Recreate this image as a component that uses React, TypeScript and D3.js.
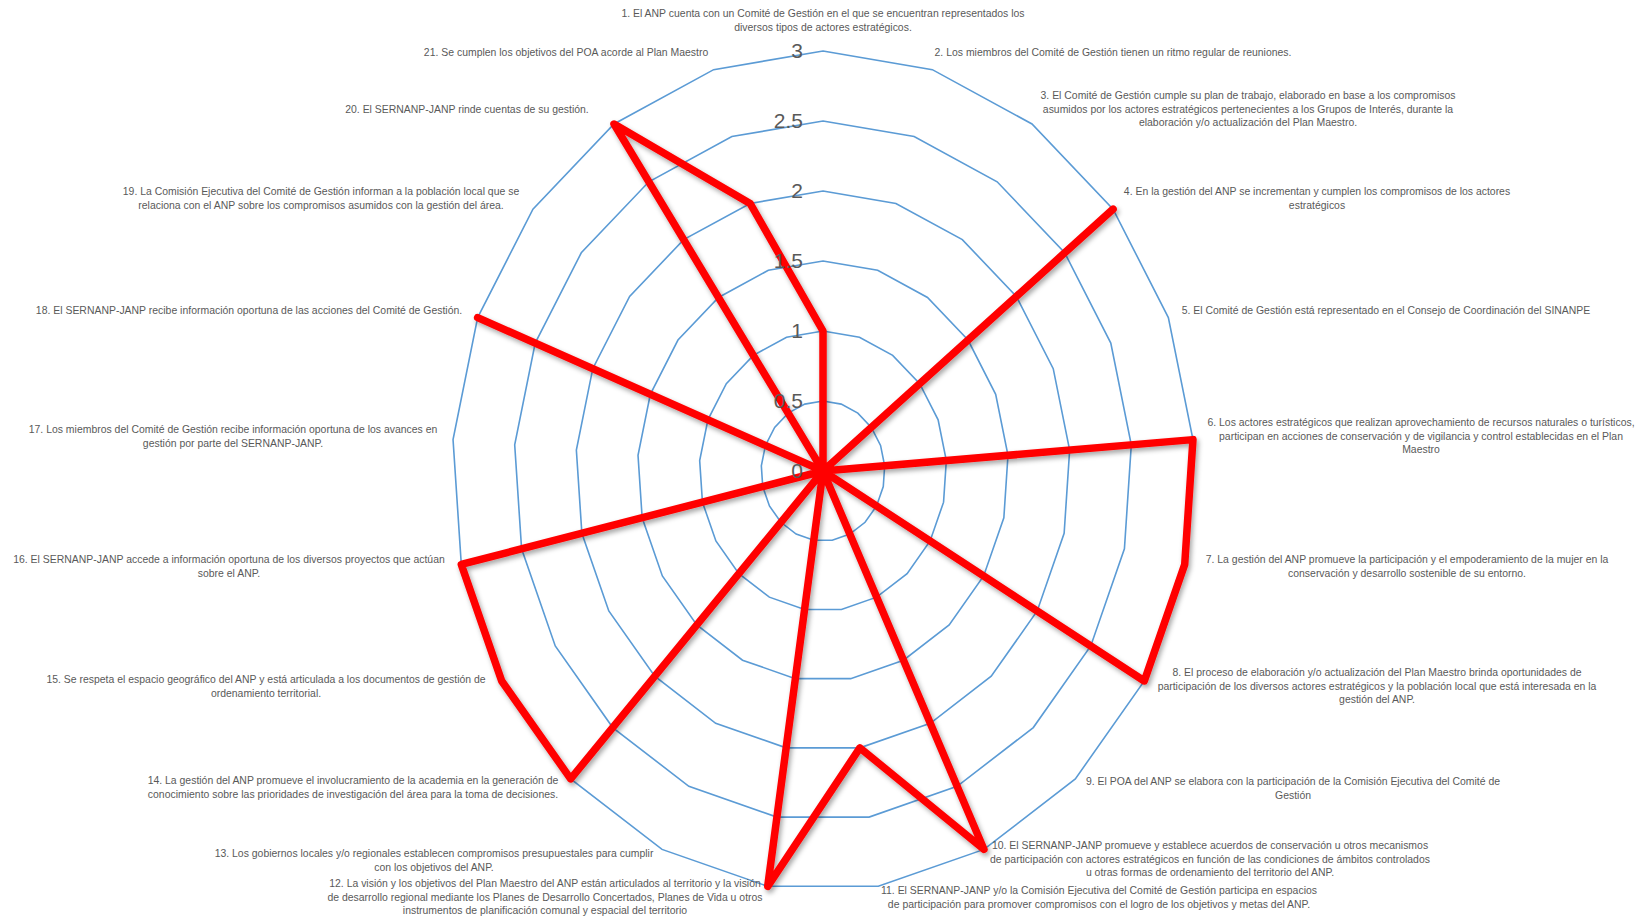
import { useEffect, useRef } from 'react';
import * as d3 from 'd3';

const categories: string[][] = [
  ['1. El ANP cuenta con un Comité de Gestión en el que se encuentran representados los', 'diversos tipos de actores estratégicos.'],
  ['2. Los miembros del Comité de Gestión tienen un ritmo regular de reuniones.'],
  ['3. El Comité de Gestión cumple su plan de trabajo, elaborado en base a los compromisos', 'asumidos por los actores estratégicos pertenecientes a los Grupos de Interés, durante la', 'elaboración y/o actualización del Plan Maestro.'],
  ['4. En la gestión del ANP se incrementan y cumplen los compromisos de los actores', 'estratégicos'],
  ['5. El Comité de Gestión está representado en el Consejo de Coordinación del SINANPE'],
  ['6. Los actores estratégicos que realizan aprovechamiento de recursos naturales o turísticos,', 'participan en acciones de conservación y de vigilancia y control establecidas en el Plan', 'Maestro'],
  ['7. La gestión del ANP promueve la participación y el empoderamiento de la mujer en la', 'conservación y desarrollo sostenible de su entorno.'],
  ['8. El proceso de elaboración y/o actualización del Plan Maestro brinda oportunidades de', 'participación de los diversos actores estratégicos y la población local que está interesada en la', 'gestión del ANP.'],
  ['9. El POA del ANP se elabora con la participación de la Comisión Ejecutiva del Comité de', 'Gestión'],
  ['10. El SERNANP-JANP promueve y establece acuerdos de conservación u otros mecanismos', 'de participación con actores estratégicos en función de las condiciones de ámbitos controlados', 'u otras formas de ordenamiento del territorio del ANP.'],
  ['11. El SERNANP-JANP y/o la Comisión Ejecutiva del Comité de Gestión participa en espacios', 'de participación para promover compromisos con el logro de los objetivos y metas del ANP.'],
  ['12. La visión y los objetivos del Plan Maestro del ANP están articulados al territorio y la visión', 'de desarrollo regional mediante los Planes de Desarrollo Concertados, Planes de Vida u otros', 'instrumentos de planificación comunal y espacial del territorio'],
  ['13. Los gobiernos locales y/o regionales establecen compromisos presupuestales para cumplir', 'con los objetivos del ANP.'],
  ['14. La gestión del ANP promueve el involucramiento de la academia en la generación de', 'conocimiento sobre las prioridades de investigación del área para la toma de decisiones.'],
  ['15. Se respeta el espacio geográfico del ANP y está articulada a los documentos de gestión de', 'ordenamiento territorial.'],
  ['16. El SERNANP-JANP accede a información oportuna de los diversos proyectos que actúan', 'sobre el ANP.'],
  ['17. Los miembros del Comité de Gestión recibe información oportuna de los avances en', 'gestión por parte del SERNANP-JANP.'],
  ['18. El SERNANP-JANP recibe información oportuna de las acciones del Comité de Gestión.'],
  ['19. La Comisión Ejecutiva del Comité de Gestión informan a la población local que se', 'relaciona con el ANP sobre los compromisos asumidos con la gestión del área.'],
  ['20. El SERNANP-JANP rinde cuentas de su gestión.'],
  ['21. Se cumplen los objetivos del POA acorde al Plan Maestro'],
];

const values = [1, 0, 0, 3, 0, 3, 3, 3, 0, 3, 2, 3, 0, 3, 3, 3, 0, 3, 0, 3, 2];

const ticks = [0, 0.5, 1, 1.5, 2, 2.5, 3];
const tickLabels = ['0', '0.5', '1', '1.5', '2', '2.5', '3'];

// layout: centre of each label block (x, y)
const labelPos: [number, number][] = [
  [823, 20], [1113, 52], [1248, 109], [1317, 198], [1386, 310], [1421, 436], [1407, 566],
  [1377, 686], [1293, 788], [1210, 859], [1099, 897], [545, 897], [434, 860], [353, 787],
  [266, 686], [229, 566], [233, 436], [249, 310], [321, 198], [467, 109], [566, 52],
];

const App = () => {
  const svgRef = useRef(null);

  useEffect(() => {
    if (!svgRef.current) return;
    document.body.style.margin = '0';

    const width = 1644;
    const height = 920;
    const cx = 823;
    const cy = 471;
    const n = categories.length;

    const svg = d3.select(svgRef.current).attr('width', width).attr('height', height);
    svg.selectAll('*').remove();

    const angle = d3.scaleLinear().domain([0, n]).range([0, 2 * Math.PI]);
    const rx = d3.scaleLinear().domain([0, 3]).range([0, 371]);
    const ry = d3.scaleLinear().domain([0, 3]).range([0, 420]);

    const px = (i: number, v: number) => cx + rx(v) * Math.sin(angle(i));
    const py = (i: number, v: number) => cy - ry(v) * Math.cos(angle(i));

    const line = d3
      .line<number>()
      .x((v, i) => px(i, v))
      .y((v, i) => py(i, v))
      .curve(d3.curveLinearClosed);

    const defs = svg.append('defs');
    defs
      .append('filter')
      .attr('id', 'shadow')
      .attr('x', '-10%')
      .attr('y', '-10%')
      .attr('width', '120%')
      .attr('height', '120%')
      .append('feDropShadow')
      .attr('dx', 2)
      .attr('dy', 3)
      .attr('stdDeviation', 2.5)
      .attr('flood-color', '#000')
      .attr('flood-opacity', 0.35);

    // grid rings
    svg
      .append('g')
      .selectAll('path')
      .data(ticks.slice(1))
      .join('path')
      .attr('d', (t) => line(d3.range(n).map(() => t)))
      .attr('fill', 'none')
      .attr('stroke', '#5b9bd5')
      .attr('stroke-width', 1.6);

    // series
    svg
      .append('path')
      .attr('d', line(values))
      .attr('fill', 'none')
      .attr('stroke', '#ff0000')
      .attr('stroke-width', 7.5)
      .attr('stroke-linejoin', 'round')
      .attr('filter', 'url(#shadow)');

    // tick labels
    svg
      .append('g')
      .selectAll('text')
      .data(ticks)
      .join('text')
      .attr('x', cx - 20)
      .attr('y', (t) => cy - ry(t))
      .attr('dy', '0.35em')
      .attr('text-anchor', 'end')
      .attr('font-family', 'Liberation Sans, Arial, sans-serif')
      .attr('font-size', 21)
      .attr('fill', '#595959')
      .text((_, i) => tickLabels[i]);

    // category labels
    const lh = 13.6;
    const g = svg
      .append('g')
      .attr('font-family', 'Liberation Sans, Arial, sans-serif')
      .attr('font-size', 11)
      .attr('fill', '#595959');
    categories.forEach((lines, i) => {
      const [x, y] = labelPos[i];
      const t = g
        .append('text')
        .attr('text-anchor', 'middle')
        .attr('transform', `translate(${x},${y}) scale(0.95,1)`);
      lines.forEach((l, j) => {
        t.append('tspan')
          .attr('x', 0)
          .attr('y', (j - (lines.length - 1) / 2) * lh)
          .attr('dy', '0.35em')
          .text(l);
      });
    });
  }, []);

  return (
    <div style={{ position: 'absolute', left: 0, top: 0 }}>
      <svg ref={svgRef}></svg>
    </div>
  );
};

export default App;
